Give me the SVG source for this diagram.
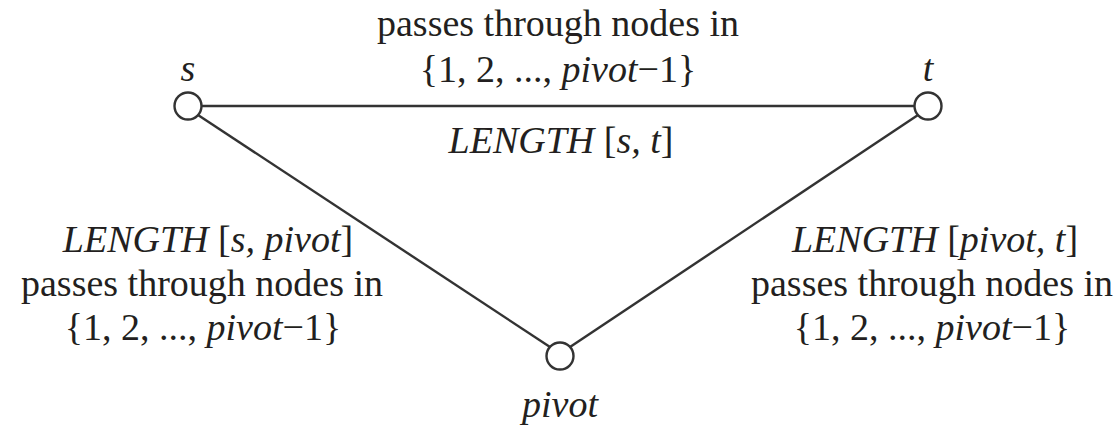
<svg xmlns="http://www.w3.org/2000/svg" width="1120" height="427" viewBox="0 0 1120 427">
<style>
.t{font-family:"Liberation Serif","Times New Roman",serif;font-size:38px;fill:#231f20;text-anchor:middle}
.i{font-style:italic}
.e{stroke:#333;stroke-width:2.4;fill:none}
.n{stroke:#333;stroke-width:2.4;fill:#fff}
</style>
<rect width="1120" height="427" fill="#fff"/>
<g id="connectors">
<line class="e" x1="201" y1="106" x2="915" y2="106"/>
<line class="e" x1="198" y1="115" x2="550" y2="347"/>
<line class="e" x1="918" y1="115" x2="570" y2="347"/>
</g>
<g id="node-s">
<circle class="n" cx="188" cy="106" r="13.5"/>
<text class="t i" x="188" y="81">s</text>
</g>
<g id="node-t">
<circle class="n" cx="928" cy="106" r="13.5"/>
<text class="t i" x="928" y="81">t</text>
</g>
<g id="node-pivot">
<circle class="n" cx="560" cy="356" r="13.5"/>
<text class="t i" x="560" y="417">pivot</text>
</g>
<g id="labels">
<text class="t" x="558" y="36">passes through nodes in</text>
<text class="t" x="558" y="82">{1, 2, ..., <tspan class="i">pivot</tspan>−1}</text>
<text class="t" x="561" y="153"><tspan class="i">LENGTH</tspan> [<tspan class="i">s, t</tspan>]</text>
<text class="t" x="208" y="252"><tspan class="i">LENGTH</tspan> [<tspan class="i">s, pivot</tspan>]</text>
<text class="t" x="202" y="296">passes through nodes in</text>
<text class="t" x="203" y="340">{1, 2, ..., <tspan class="i">pivot</tspan>−1}</text>
<text class="t" x="935" y="252"><tspan class="i">LENGTH</tspan> [<tspan class="i">pivot, t</tspan>]</text>
<text class="t" x="932" y="296">passes through nodes in</text>
<text class="t" x="932" y="340">{1, 2, ..., <tspan class="i">pivot</tspan>−1}</text>
</g>
</svg>
